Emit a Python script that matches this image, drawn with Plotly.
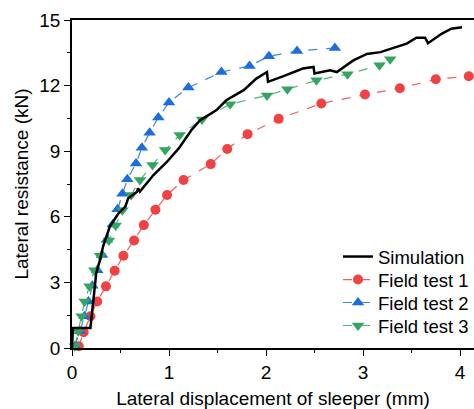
import plotly.graph_objects as go

sim_x = [0, 0.01, 0.19, 0.21, 0.23, 0.25, 0.29, 0.32, 0.39, 0.48, 0.55, 0.58, 0.67, 0.68, 0.70,
         0.84, 0.98, 1.10, 1.23, 1.32, 1.49, 1.59, 1.77, 1.90, 2.01, 2.02, 2.18, 2.28, 2.38,
         2.49, 2.50, 2.66, 2.73, 2.90, 3.04, 3.18, 3.26, 3.45, 3.55, 3.64, 3.67, 3.81, 3.91, 4.02]
sim_y = [0, 0.92, 0.92, 1.75, 2.59, 3.43, 4.04, 4.64, 5.55, 6.16, 6.47, 6.85, 7.15, 7.3, 7.15,
         7.91, 8.52, 9.13, 9.96, 10.42, 10.88, 11.33, 11.79, 12.32, 12.62, 12.17, 12.43, 12.62, 12.78,
         12.85, 12.55, 12.7, 12.62, 13.15, 13.45, 13.53, 13.64, 13.92, 14.19, 14.19, 13.94, 14.37, 14.6, 14.67]

f1_x = [0.07, 0.12, 0.19, 0.26, 0.35, 0.44, 0.53, 0.64, 0.74, 0.86, 0.98, 1.15, 1.43, 1.6, 1.81,
        2.13, 2.57, 3.02, 3.38, 3.75, 4.09]
f1_y = [0.08, 0.72, 1.45, 2.13, 2.82, 3.53, 4.22, 4.92, 5.62, 6.32, 7.0, 7.68, 8.41, 9.1, 9.78,
        10.48, 11.18, 11.59, 11.88, 12.29, 12.43]

f2_x = [0.03, 0.08, 0.13, 0.17, 0.21, 0.26, 0.31, 0.36, 0.42, 0.47, 0.52, 0.57, 0.66, 0.72, 0.80,
        0.89, 1.0, 1.2, 1.54, 1.83, 2.03, 2.32, 2.71]
f2_y = [0.08, 0.77, 1.45, 2.13, 2.85, 3.55, 4.25, 4.95, 5.65, 6.35, 7.05, 7.72, 8.44, 9.16, 9.84,
        10.54, 11.23, 11.91, 12.62, 12.9, 13.34, 13.58, 13.72]

f3_x = [0.03, 0.065, 0.10, 0.13, 0.18, 0.23, 0.29, 0.38, 0.45, 0.52, 0.61, 0.70, 0.83, 0.96, 1.11,
        1.34, 1.63, 2.01, 2.22, 2.52, 2.84, 3.17, 3.28]
f3_y = [0.08, 0.77, 1.45, 2.13, 2.82, 3.55, 4.22, 4.92, 5.6, 6.3, 7.0, 7.68, 8.37, 9.05, 9.74,
        10.45, 11.15, 11.55, 11.83, 12.24, 12.52, 12.93, 13.2]

x_ticks = [0, 1, 2, 3, 4]
y_ticks = [0, 3, 6, 9, 12, 15]

FONT = "Liberation Sans"
FS = 19
RED = "rgb(240,66,66)"
BLUE = "rgb(28,110,222)"
GREEN = "rgb(52,165,95)"

fig = go.Figure()
fig.add_trace(go.Scatter(x=f1_x, y=f1_y, mode="lines+markers", name="Field test 1", legend="legend2",
                         line=dict(color="rgba(240,66,66,0.85)", width=1.2, dash="dash"),
                         marker=dict(symbol="circle", size=10, color=RED), cliponaxis=False))
fig.add_trace(go.Scatter(x=f2_x, y=f2_y, mode="lines+markers", name="Field test 2", legend="legend3",
                         line=dict(color="rgba(28,110,222,0.85)", width=1.2, dash="dash"),
                         marker=dict(symbol="triangle-up", size=11, color=BLUE), cliponaxis=False))
fig.add_trace(go.Scatter(x=f3_x, y=f3_y, mode="lines+markers", name="Field test 3", legend="legend4",
                         line=dict(color="rgba(52,165,95,0.85)", width=1.2, dash="dash"),
                         marker=dict(symbol="triangle-down", size=11, color=GREEN), cliponaxis=False))
fig.add_trace(go.Scatter(x=sim_x, y=sim_y, mode="lines", name="Simulation", legend="legend",
                         line=dict(color="black", width=2.5), cliponaxis=False))


def leg(yc):
    return dict(x=0.6617, y=yc, xanchor="left", yanchor="middle",
                bgcolor="rgba(0,0,0,0)", font=dict(size=FS - 0.5, family=FONT),
                itemwidth=30)


fig.update_layout(
    width=474, height=409,
    margin=dict(l=72, r=0, t=20, b=61, autoexpand=False),
    paper_bgcolor="white", plot_bgcolor="white",
    font=dict(family=FONT, size=FS, color="black"),
    showlegend=True,
    legend=leg(0.2774),
    legend2=leg(0.2073),
    legend3=leg(0.1372),
    legend4=leg(0.0671),
)
fig.update_xaxes(range=[0, 4.144], tickvals=x_ticks, ticktext=[str(v) for v in x_ticks],
                 automargin=False,
                 showgrid=False, zeroline=False, showline=True, linecolor="black", linewidth=1.5,
                 mirror=True, ticks="outside", ticklen=6, tickwidth=1.2, tickcolor="black",
                 minor=dict(dtick=0.5, ticks="outside", ticklen=3, tickwidth=1, tickcolor="black"),
                 tickfont=dict(size=FS, family=FONT),
                 title=dict(text="Lateral displacement of sleeper (mm)", font=dict(size=FS, family=FONT), standoff=10))
fig.update_yaxes(range=[0, 15], tickvals=y_ticks, ticktext=[str(v) for v in y_ticks],
                 automargin=False,
                 showgrid=False, zeroline=False, showline=True, linecolor="black", linewidth=1.5,
                 mirror=False, ticks="outside", ticklen=6, tickwidth=1.2, tickcolor="black",
                 minor=dict(dtick=1.5, ticks="outside", ticklen=3, tickwidth=1, tickcolor="black"),
                 tickfont=dict(size=FS, family=FONT),
                 title=dict(text="Lateral resistance (kN)", font=dict(size=FS, family=FONT), standoff=6))

fig.write_html("out.html", config={"displayModeBar": False},
               post_script="document.body.style.margin='0';document.body.style.overflow='hidden';")
